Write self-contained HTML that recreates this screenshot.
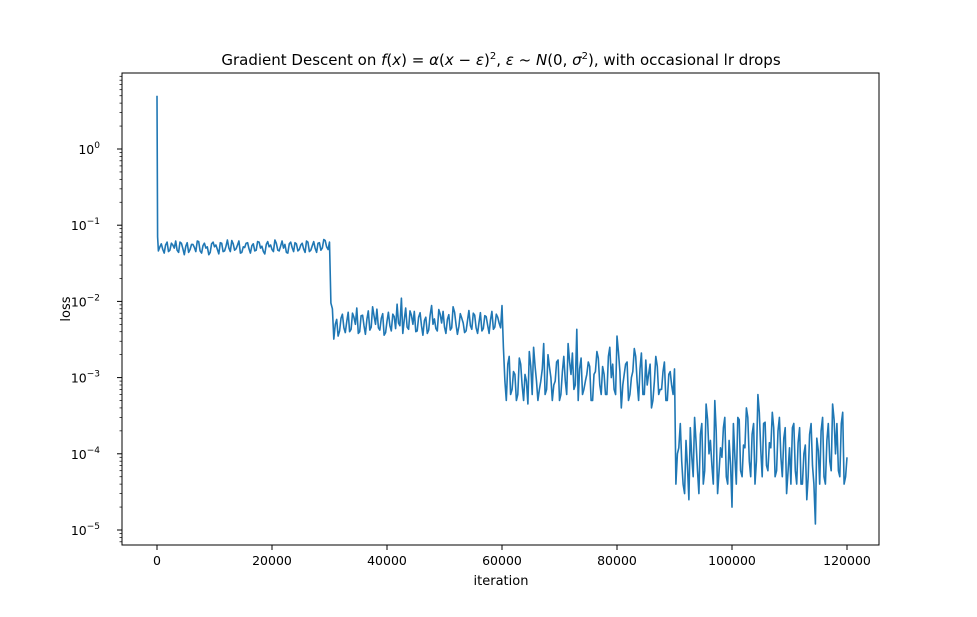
<!DOCTYPE html>
<html><head><meta charset="utf-8"><style>
body{margin:0;background:#fff;font-family:"Liberation Sans","DejaVu Sans",sans-serif;}
svg text{font-family:"DejaVu Sans","Liberation Sans",sans-serif;}
</style></head><body>
<svg id="chart" width="977" height="612" xmlns="http://www.w3.org/2000/svg">
<rect width="977" height="612" fill="#fff"/>
<text x="501" y="65" text-anchor="middle" font-size="15">Gradient Descent on <tspan font-style="italic">f</tspan>(<tspan font-style="italic">x</tspan>) = <tspan font-style="italic">α</tspan>(<tspan font-style="italic">x</tspan> − <tspan font-style="italic">ε</tspan>)<tspan dy="-6" font-size="10">2</tspan><tspan dy="6">, </tspan><tspan font-style="italic">ε</tspan> ~ <tspan font-style="italic">N</tspan>(0, <tspan font-style="italic">σ</tspan><tspan dy="-6" font-size="10">2</tspan><tspan dy="6">), with occasional lr drops</tspan></text>
<g id="ticks"></g>
<path id="line" fill="none" stroke="#1f77b4" stroke-width="1.6" stroke-linejoin="round"/>
<rect x="122" y="73" width="757" height="472" fill="none" stroke="#000" stroke-width="1"/>
<text x="501" y="585" text-anchor="middle" font-size="13">iteration</text>
<text x="70" y="309" text-anchor="middle" font-size="13" transform="rotate(-90 70 309)">loss</text>
</svg>
<script>
const startIters=[0,100];
const startLoss=[5,0.07];
const step=500;
const seg1=[0.052,0.048,0.055,0.045,0.058,0.050,0.047,0.060,0.049,0.053,0.044,0.056,0.051,0.062,0.046,0.054,0.050,0.041,0.057,0.052,0.048,0.059,0.045,0.053,0.050,0.063,0.047,0.055,0.043,0.052,0.058,0.049,0.054,0.046,0.061,0.050,0.045,0.056,0.052,0.048,0.064,0.047,0.053,0.050,0.044,0.057,0.051,0.059,0.046,0.055,0.049,0.062,0.045,0.054,0.050,0.058,0.047,0.065,0.052,0.060];
const seg2=[0.008,0.005,0.0035,0.006,0.0045,0.0055,0.004,0.007,0.005,0.0038,0.0065,0.0048,0.0058,0.0042,0.0085,0.005,0.0045,0.006,0.0036,0.0055,0.0048,0.0068,0.0044,0.0052,0.011,0.0058,0.0046,0.0075,0.005,0.004,0.0062,0.0048,0.0056,0.0038,0.0066,0.005,0.0044,0.0078,0.0052,0.0046,0.0058,0.0042,0.0085,0.005,0.0047,0.006,0.0039,0.0056,0.0048,0.007,0.0045,0.0053,0.0041,0.0065,0.0049,0.0057,0.0043,0.0068,0.0052,0.0088];
const seg3=[0.0009,0.0015,0.0006,0.0012,0.0005,0.0018,0.0008,0.0011,0.00045,0.0014,0.0025,0.0009,0.0007,0.0013,0.0006,0.002,0.001,0.0008,0.0016,0.0005,0.0012,0.0009,0.0028,0.0011,0.0007,0.0043,0.0013,0.0006,0.0009,0.0016,0.0005,0.0011,0.0022,0.0008,0.0014,0.0006,0.0019,0.001,0.0007,0.0035,0.0012,0.0008,0.0015,0.0005,0.001,0.0024,0.0009,0.0013,0.0006,0.0017,0.0011,0.0004,0.0009,0.0014,0.0007,0.0012,0.0005,0.0011,0.0008,0.0013];
const seg4=[0.0001,0.00025,0.00004,0.00015,0.000025,0.00009,0.0003,0.00006,0.00018,0.00004,0.00045,0.0001,0.00007,0.0005,0.00003,0.00012,0.00022,0.00005,0.00015,0.00002,0.00009,0.0003,0.00006,0.00013,0.0004,0.00008,0.00018,0.00004,0.0006,0.00011,0.00025,0.00007,0.00014,0.00035,0.00005,0.0002,0.00009,0.00016,0.00003,0.00012,0.00022,0.00006,0.00014,0.00004,0.0001,0.000025,0.00018,0.00007,0.000012,0.00011,0.0002,0.00005,0.00015,0.00008,0.00045,0.0001,0.00006,0.00025,0.00004,0.00009];
const mid1=[0.046,0.057,0.043,0.060,0.047,0.055,0.062,0.044,0.058,0.041,0.059,0.048,0.056,0.045,0.061,0.043,0.058,0.052,0.044,0.060,0.055,0.042,0.058,0.046,0.064,0.045,0.057,0.049,0.062,0.044,0.051,0.059,0.043,0.057,0.047,0.060,0.053,0.042,0.061,0.055,0.045,0.058,0.046,0.062,0.056,0.043,0.060,0.045,0.057,0.048,0.058,0.044,0.060,0.047,0.061,0.044,0.059,0.050,0.063,0.048];
const mid2=[0.0095,0.0032,0.0058,0.0041,0.0068,0.0039,0.0072,0.0043,0.0062,0.0082,0.004,0.0066,0.0037,0.0075,0.0046,0.0064,0.0079,0.0042,0.0069,0.0039,0.0072,0.0041,0.0063,0.0092,0.0048,0.0038,0.0082,0.0043,0.0066,0.0074,0.0041,0.0071,0.0036,0.0062,0.0042,0.0088,0.0059,0.0041,0.0068,0.0074,0.0038,0.0067,0.0045,0.0072,0.0037,0.0069,0.0052,0.0041,0.0076,0.0043,0.0066,0.0038,0.0071,0.0044,0.0063,0.0038,0.0074,0.0046,0.0062,0.0045];
const mid3=[0.0025,0.0005,0.0019,0.0007,0.0011,0.0006,0.0015,0.0005,0.0009,0.0022,0.0006,0.0014,0.0005,0.0009,0.0028,0.0007,0.0014,0.0005,0.0009,0.0017,0.0006,0.0019,0.0006,0.0016,0.0021,0.0008,0.0005,0.0018,0.0007,0.0011,0.0014,0.0005,0.0012,0.0018,0.0006,0.0011,0.0006,0.0025,0.0015,0.0006,0.0022,0.0004,0.0011,0.0016,0.0006,0.0012,0.0019,0.0005,0.0021,0.0006,0.0008,0.0015,0.0005,0.0019,0.0006,0.0007,0.0016,0.0005,0.0012,0.0006];
const mid4=[0.00004,0.00012,0.00008,0.00003,0.00007,0.00022,0.00005,0.00014,0.00003,0.00025,0.00006,0.00028,0.00015,0.00004,0.0002,0.00006,0.00009,0.0003,0.00004,0.00007,0.00025,0.00004,0.00028,0.00005,0.00012,0.0003,0.00005,0.00025,0.00008,0.00035,0.00005,0.00026,0.00006,0.00012,0.00022,0.00006,0.0003,0.00005,0.00022,0.00006,0.00004,0.00025,0.00004,0.00022,0.00004,0.00013,0.00005,0.00025,0.00004,0.00016,0.00004,0.0003,0.00004,0.00025,0.00006,0.00028,0.00025,0.00005,0.00035,0.00005];
const xTicks=[0,20000,40000,60000,80000,100000,120000];
const yExps=[0,-1,-2,-3,-4,-5];

const X=v=>157+v*(690/120000);
const Y=v=>149-Math.log10(v)*76.2;
const ns="http://www.w3.org/2000/svg";
const g=document.getElementById('ticks');
function mk(t,a){const e=document.createElementNS(ns,t);for(const k in a)e.setAttribute(k,a[k]);g.appendChild(e);return e;}
xTicks.forEach(t=>{
  const l=mk('line',{x1:X(t),x2:X(t),y1:545,y2:550,stroke:'#000'});
  
  
  const s=mk('text',{x:X(t),y:565,'text-anchor':'middle','font-size':'12.5'});
  
  
  s.textContent=t;
});
for(let e=-6;e<=1;e++){for(let m=2;m<=9;m++){const v=m*Math.pow(10,e);const y=Y(v);if(y<73||y>545)continue;
  const l=mk('line',{x1:119.5,x2:122,y1:y,y2:y,stroke:'#000','stroke-width':0.7});
  
  }}
yExps.forEach(e=>{const y=Y(Math.pow(10,e));
  const l=mk('line',{x1:117,x2:122,y1:y,y2:y,stroke:'#000'});
  
  
  const s=mk('text',{x:100,y:y+5,'text-anchor':'end','font-size':'12.5'});
  
  
  s.innerHTML='10<tspan dy="-6" font-size="9">'+(e<0?'−'+(-e):e)+'</tspan>';
});
const mains=seg1.concat(seg2,seg3,seg4);
const mids=mid1.concat(mid2,mid3,mid4);
const iters=startIters.slice(), loss=startLoss.slice();
mains.forEach((v,k)=>{iters.push(k*step+step/2);loss.push(mids[k]);iters.push((k+1)*step);loss.push(v);});
let d='';iters.forEach((it,i)=>{d+=(i?'L':'M')+X(it).toFixed(1)+','+Y(loss[i]).toFixed(1);});
document.getElementById('line').setAttribute('d',d);
</script>
</body></html>
